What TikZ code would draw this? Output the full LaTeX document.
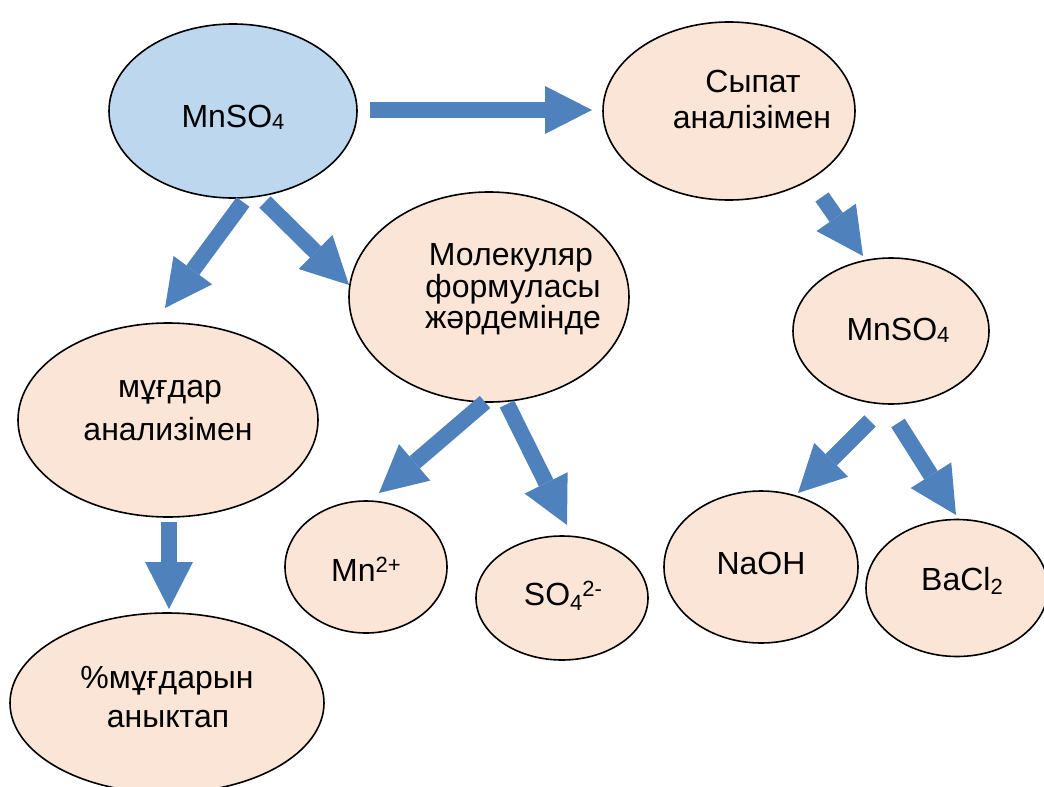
\documentclass[tikz,border=0pt]{standalone}
\usepackage{fontspec}
\setmainfont{Liberation Sans}
\usetikzlibrary{arrows.meta,shapes.geometric}
\definecolor{blfill}{HTML}{BDD7EE}
\definecolor{pkfill}{HTML}{FBE5D6}
\definecolor{arblue}{HTML}{4F81BD}
\newcommand{\lsub}[2][3pt]{\raisebox{-#1}{\fontsize{22}{22}\selectfont #2}}
\newcommand{\lsup}[1]{\raisebox{9pt}{\fontsize{22}{22}\selectfont #1}}
\tikzset{
  ell/.style={draw=black, line width=1.6pt, ellipse, inner sep=0pt},
  blueell/.style={ell, fill=blfill},
  pinkell/.style={ell, fill=pkfill},
  txt/.style={inner sep=0pt, anchor=base, font=\fontsize{32}{36}\selectfont},
  blockarrow/.style={draw=arblue, line width=16pt,
    -{Triangle[width=48pt,length=47pt,line width=0pt]}}
}
\begin{document}
\begin{tikzpicture}[x=1pt,y=-1pt]
\useasboundingbox (0,0) rectangle (1044,787);
% ellipses
\node[blueell, minimum width=248pt, minimum height=174pt] (e1) at (233,111) {};
\node[pinkell, minimum width=252pt, minimum height=178pt] (e2) at (729,111) {};
\node[pinkell, minimum width=280pt, minimum height=210pt] (e3) at (489,297) {};
\node[pinkell, minimum width=300pt, minimum height=194pt] (e4) at (168,420) {};
\node[pinkell, minimum width=196pt, minimum height=146pt] (e5) at (891,331) {};
\node[pinkell, minimum width=162pt, minimum height=132pt] (e6) at (366,567) {};
\node[pinkell, minimum width=172pt, minimum height=124pt] (e7) at (562,598) {};
\node[pinkell, minimum width=194pt, minimum height=152pt] (e8) at (761,567) {};
\node[pinkell, minimum width=182pt, minimum height=137pt] (e9) at (957,588) {};
\node[pinkell, minimum width=314pt, minimum height=180pt] (e10) at (167,703) {};
% texts
\node[txt] (t1) at (233,127) {MnSO\lsub[2pt]{4}};
\node[txt] (t2a) at (753,92) {Сыпат};
\node[txt] (t2b) at (752,128) {аналізімен};
\node[txt] (t3a) at (511,265) {Молекуляр};
\node[txt] (t3b) at (513,297) {формуласы};
\node[txt] (t3c) at (513,328) {жәрдемінде};
\node[txt] (t4a) at (170,397) {мұғдар};
\node[txt] (t4b) at (168,440) {анализімен};
\node[txt] (t5) at (898,340) {MnSO\lsub[2pt]{4}};
\node[txt] (t6) at (366,581) {Mn\lsup{2+}};
\node[txt] (t7) at (563,605) {SO\lsub[5pt]{4}\lsup{2-}};
\node[txt] (t8) at (761,574) {NaOH};
\node[txt] (t9) at (962,590) {BaCl\lsub[4pt]{2}};
\node[txt] (t10a) at (167,688) {\%мұғдарын};
\node[txt] (t10b) at (168,727) {аныктап};
% arrow end points
\coordinate (a1s) at (370,110); \coordinate (a1e) at (592,110);
\coordinate (a2s) at (243,202); \coordinate (a2e) at (165,308);
\coordinate (a3s) at (265,202); \coordinate (a3e) at (349,285);
\coordinate (a4s) at (169,522); \coordinate (a4e) at (169,609);
\coordinate (a5s) at (485,402); \coordinate (a5e) at (379,493);
\coordinate (a6s) at (507,404); \coordinate (a6e) at (567,525);
\coordinate (a7s) at (822,197); \coordinate (a7e) at (863,256);
\coordinate (a8s) at (870,421); \coordinate (a8e) at (798,493);
\coordinate (a9s) at (898,423); \coordinate (a9e) at (956,515);
\foreach \i in {1,...,9} {\draw[blockarrow] (a\i s) -- (a\i e);}
\end{tikzpicture}
\end{document}
